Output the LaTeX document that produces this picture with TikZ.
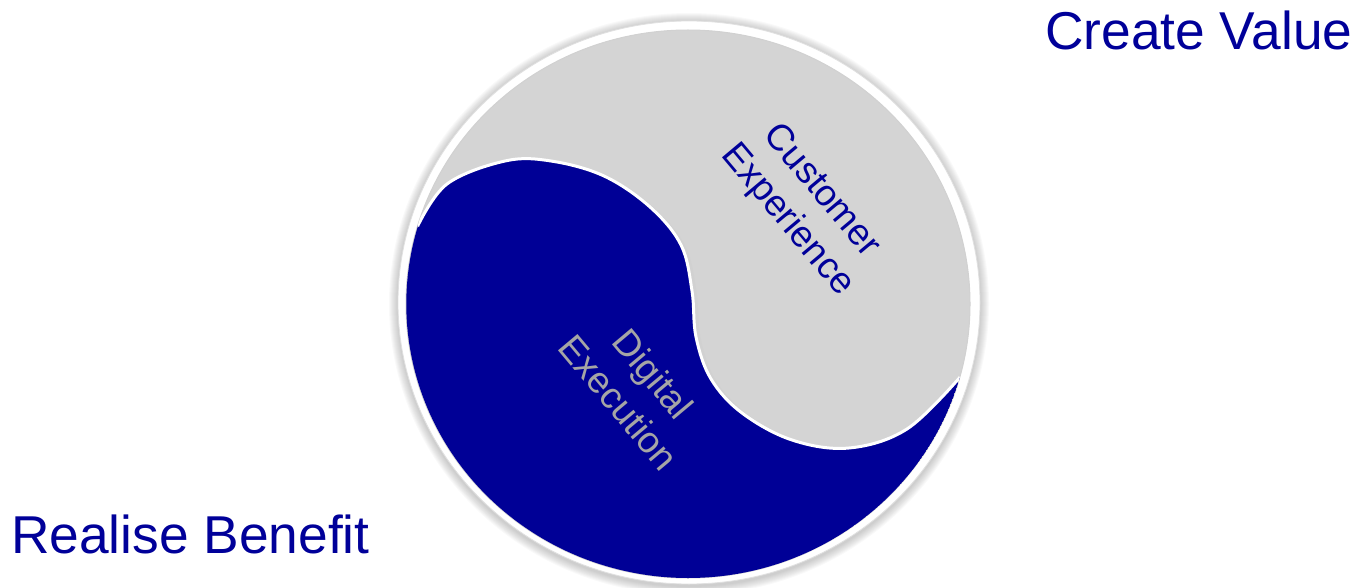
\documentclass[tikz,border=0pt]{standalone}
\usepackage{fontspec}
\setmainfont{Liberation Sans}
\definecolor{yblue}{RGB}{0,0,150}
\definecolor{ynavy}{RGB}{0,0,153}
\definecolor{ygray}{RGB}{212,212,212}
\definecolor{ytext}{RGB}{165,165,165}
\tikzset{
  bigtxt/.style={font=\fontsize{53.3}{60}\selectfont, text=ynavy, inner sep=0pt},
  midtxt/.style={font=\fontsize{37}{45}\selectfont, align=center, rotate=-50, inner sep=0pt},
}
\begin{document}
\begin{tikzpicture}[x=1pt,y=-1pt]
\useasboundingbox (0,0) rectangle (1359,588);
% soft shadow of the disc
\foreach \d in {1,...,9}{
  \fill[black, opacity=0.025] (689,304) ellipse[x radius=291+\d, y radius=282+\d];
}
% outer white ring
\fill[white] (689,302.5) ellipse[x radius=291, y radius=281.5];
\draw[black!12, line width=0.8] (689,302.5) ellipse[x radius=291, y radius=281.5];
% inner grey disc
\fill[ygray] (688,304) ellipse[x radius=282, y radius=274];
\draw[black!18, line width=1] (688,304) ellipse[x radius=282, y radius=274];
% blue half
\begin{scope}
\clip (688,304) ellipse[x radius=282, y radius=274];
% soft shadow of the S-curve on the grey
\draw[black!18, line width=5, line join=round]
  plot[smooth, tension=0.6] coordinates {(417.6,227.7) (447.5,186) (505,163) (551,163) (605,178) (651.5,209) (683,247) (694,292) (698,338) (713,380.5) (744,415) (792.5,442) (849,450) (907.5,431) (961,379)};
\fill[yblue] plot[smooth, tension=0.6] coordinates {(417.6,226.2) (447,184) (505,161) (551,161) (604,176) (650,207) (681,245) (692,291) (696,337) (711,379) (742,413) (792,440) (849,448) (907,429) (960,377.2)}
  arc[start angle=15.5, end angle=196.5, x radius=282, y radius=274] -- cycle;
\draw[white, line width=3, line join=round]
  plot[smooth, tension=0.6] coordinates {(417.6,226.2) (447,184) (505,161) (551,161) (604,176) (650,207) (681,245) (692,291) (696,337) (711,379) (742,413) (792,440) (849,448) (907,429) (960,377.2)};
\end{scope}
% labels inside the disc
\node[midtxt, text=ynavy] (ce) at (804,206) {Customer\\Experience};
\node[midtxt, text=ytext] (de) at (636,388) {Digital\\Execution};
% corner labels
\node[bigtxt, anchor=base west] (cv) at (1045,50) {Create Value};
\node[bigtxt, anchor=base west] (rb) at (11,553) {Realise Benefit};
\end{tikzpicture}
\end{document}
